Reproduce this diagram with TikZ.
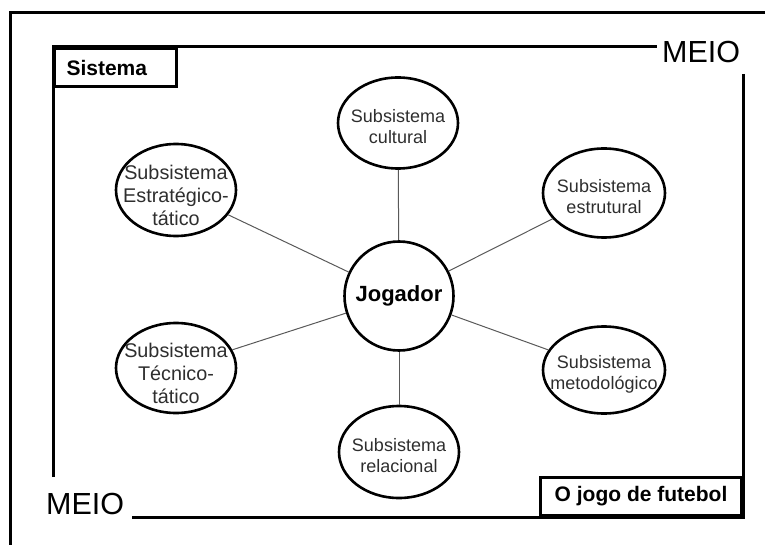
\documentclass[tikz,border=0pt]{standalone}
\usepackage{fontspec}
\setmainfont{Liberation Sans}
\usetikzlibrary{shapes.geometric}
\begin{document}
\begin{tikzpicture}[x=1pt,y=-1pt,
  frameline/.style={line width=3pt},
  tagbox/.style={draw=black, line width=3pt, rectangle, inner sep=0pt, minimum height=38pt,
    font=\bfseries\fontsize{21}{24}\selectfont},
  meio/.style={inner sep=0pt, anchor=base west, font=\fontsize{30.5}{34}\selectfont},
  sub/.style={ellipse, draw=black, line width=2.6pt, inner sep=0pt, minimum width=120pt, minimum height=91pt},
  subL/.style={font=\fontsize{19.8}{23}\selectfont, align=center, text=black!82, yshift=-5pt},
  subR/.style={font=\fontsize{18}{21}\selectfont, align=center, text=black!82, yshift=-4pt},
  link/.style={draw=black!65, line width=1pt}
]
\useasboundingbox (0,0) rectangle (765,545);
% outer frame
\draw[frameline] (10,545) -- (10,13) -- (765,13);
% inner frame lines
\draw[frameline] (53,477) -- (53,47) -- (657,47);
\draw[frameline] (743,74) -- (743,517) -- (132,517);
% labels
\node[tagbox, anchor=north west, minimum width=122pt, text width=98pt, align=left, inner xsep=12pt] (sis) at (53,47) {Sistema};
\node[tagbox, anchor=south east, minimum width=201pt] (jogo) at (743,517) {O jogo de futebol};
\node[meio] (meio1) at (662,63) {MEIO};
\node[meio] (meio2) at (46,514) {MEIO};
% center
\node[circle, draw=black, line width=2.6pt, minimum size=109pt, inner sep=0pt,
  font=\bfseries\fontsize{22}{26}\selectfont] (j) at (399,296) {Jogador};
% subsystems
\node[sub, minimum width=120pt, minimum height=91pt, label={[subR]center:Subsistema\\cultural}] (cult) at (398,123) {};
\node[sub, minimum width=122pt, minimum height=89pt, label={[subR]center:Subsistema\\estrutural}] (estr) at (604,193) {};
\node[sub, minimum width=120pt, minimum height=92pt, label={[subL]center:Subsistema\\Estratégico-\\tático}] (estg) at (176,190) {};
\node[sub, minimum width=120pt, minimum height=90pt, label={[subL]center:Subsistema\\Técnico-\\tático}] (tecn) at (176,368) {};
\node[sub, minimum width=122pt, minimum height=87pt, label={[subR]center:Subsistema\\metodológico}] (meto) at (604,370) {};
\node[sub, minimum width=120pt, minimum height=92pt, label={[subR]center:Subsistema\\relacional}] (rela) at (399,452) {};
% connectors
\draw[link] (j) -- (cult);
\draw[link] (j) -- (estr);
\draw[link] (j) -- (estg);
\draw[link] (j) -- (tecn);
\draw[link] (j) -- (meto);
\draw[link] (j) -- (rela);
\end{tikzpicture}
\end{document}
